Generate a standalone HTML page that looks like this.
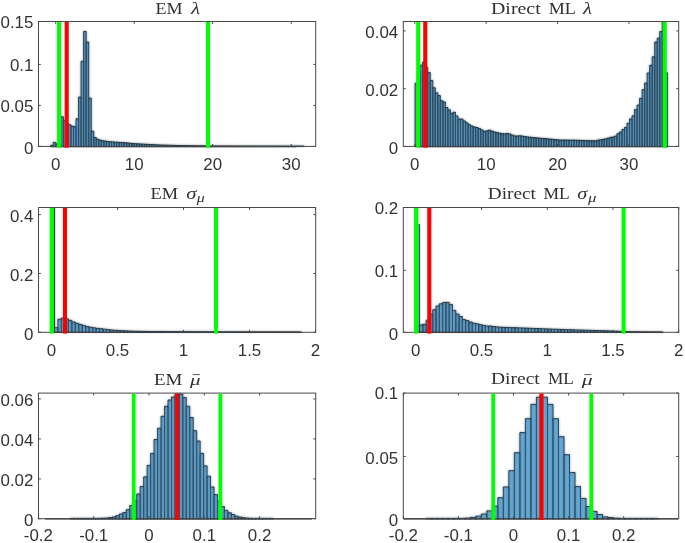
<!DOCTYPE html>
<html><head><meta charset="utf-8"><title>Histograms</title>
<style>
html,body{margin:0;padding:0;background:#fff}
svg{display:block}
.t{font-family:"Liberation Sans",sans-serif;font-size:16.9px;fill:#333}
.h{font-family:"Liberation Serif",serif;font-size:17.6px;fill:#303030}
.i{font-style:italic}
</style></head>
<body>
<svg width="685" height="543" viewBox="0 0 685 543">
<rect width="685" height="543" fill="#fff"/>
<defs><filter id="bl" x="-2%" y="-2%" width="104%" height="104%"><feGaussianBlur stdDeviation="0.8"/></filter>
<clipPath id="c1"><rect x="38.5" y="21" width="277.2" height="126.7"/></clipPath>
<clipPath id="c2"><rect x="403.3" y="21" width="275.4" height="126.7"/></clipPath>
<clipPath id="c3"><rect x="38.5" y="207" width="277.2" height="126.6"/></clipPath>
<clipPath id="c4"><rect x="403.3" y="207" width="275.4" height="126.6"/></clipPath>
<clipPath id="c5"><rect x="38.5" y="392.6" width="277.2" height="127.4"/></clipPath>
<clipPath id="c6"><rect x="403.3" y="392.6" width="275.4" height="127.4"/></clipPath>
</defs>
<g clip-path="url(#c1)"><path id="pc1" d="M50.7 147V145.4H53.23V147M53.23 147V142.4H55.77V147M55.77 147V143.9H58.3V147M58.3 147V144.9H60.83V147M60.83 147V116.8H63.37V147M63.37 147V120.4H65.9V147M65.9 147V123.4H68.43V147M68.43 147V124.8H70.96V147M70.96 147V126.2H73.5V147M73.5 147V126.6H76.03V147M76.03 147V118.8H78.56V147M78.56 147V97.1H81.1V147M81.1 147V61.4H83.63V147M83.63 147V31.4H86.16V147M86.16 147V42H88.7V147M88.69 147V98.2H91.23V147M91.23 147V131.2H93.76V147M93.76 147V137.6H96.29V147M96.29 147V139.2H98.83V147M98.83 147V140.1H101.36V147M101.36 147V140.7H103.89V147M103.89 147V141.03H106.43V147M106.43 147V141.52H108.96V147M108.96 147V141.72H111.49V147M111.49 147V141.92H114.03V147M114.03 147V142.12H116.56V147M116.56 147V142.29H119.09V147M119.09 147V142.43H121.62V147M121.62 147V142.58H124.16V147M124.16 147V142.74H126.69V147M126.69 147V143H129.22V147M129.22 147V143.26H131.76V147M131.76 147V143.52H134.29V147M134.29 147V143.7H136.82V147M136.82 147V143.84H139.35V147M139.36 147V143.99H141.89V147M141.89 147V144.13H144.42V147M144.42 147V144.26H146.95V147M146.95 147V144.39H149.49V147M149.49 147V144.52H152.02V147M152.02 147V144.65H154.55V147M154.55 147V144.78H157.09V147M157.09 147V144.91H159.62V147M159.62 147V145.03H162.15V147M162.15 147V145.1H164.68V147M164.69 147V145.17H167.22V147M167.22 147V145.24H169.75V147M169.75 147V145.31H172.28V147M172.28 147V145.38H174.82V147M174.82 147V145.46H177.35V147M177.35 147V145.52H179.88V147M179.88 147V145.56H182.42V147M182.42 147V145.6H184.95V147M184.95 147V145.65H187.48V147M187.48 147V145.69H190.01V147M190.01 147V145.74H192.55V147M192.55 147V145.78H195.08V147M195.08 147V145.81H197.61V147M197.61 147V145.83H200.15V147M200.15 147V145.85H202.68V147M202.68 147V145.87H205.21V147M205.21 147V145.89H207.75V147M207.75 147V145.91H210.28V147M210.28 147V145.92H212.81V147M212.81 147V145.94H215.34V147M215.34 147V145.95H217.88V147M217.88 147V145.96H220.41V147M220.41 147V145.96H222.94V147M222.94 147V145.97H225.48V147M225.48 147V145.98H228.01V147M228.01 147V145.98H230.54V147M230.54 147V145.99H233.08V147M233.08 147V145.99H235.61V147M235.61 147V146H238.14V147M238.14 147V146H240.67V147M240.68 147V146.01H243.21V147M243.21 147V146.02H245.74V147M245.74 147V146.02H248.27V147M248.27 147V146.03H250.81V147M250.81 147V146.03H253.34V147M253.34 147V146.04H255.87V147M255.87 147V146.04H258.41V147M258.41 147V146.05H260.94V147M260.94 147V146.05H263.47V147M263.47 147V146.06H266V147M266 147V146.06H268.54V147M268.54 147V146.06H271.07V147M271.07 147V146.06H273.6V147M273.6 147V146.07H276.14V147M276.14 147V146.07H278.67V147M278.67 147V146.07H281.2V147M281.2 147V146.08H283.74V147M283.74 147V146.08H286.27V147M286.27 147V146.08H288.8V147M288.8 147V146.08H291.34V147M291.33 147V146.09H293.87V147M293.87 147V146.09H296.4V147M296.4 147V146.09H298.93V147M298.93 147V146.1H301.47V147M301.47 147V146.1H304V147" fill="#66aad7" stroke="#101820" stroke-width="0.9" stroke-linejoin="miter"/><g filter="url(#bl)" opacity="0.55"><use href="#pc1"/></g></g>
<path d="M50.7 146.55H296" stroke="#2a2a2a" stroke-width="1.2" fill="none"/>
<rect x="38.5" y="21.5" width="277.2" height="124.9" fill="none" stroke="#484848" stroke-width="1"/>
<path d="M55.7 146.4v-2.4M55.7 21.5v2.4M134.2 146.4v-2.4M134.2 21.5v2.4M212.7 146.4v-2.4M212.7 21.5v2.4M291.2 146.4v-2.4M291.2 21.5v2.4M38.5 146.4h2.4M315.7 146.4h-2.4M38.5 105.4h2.4M315.7 105.4h-2.4M38.5 64.4h2.4M315.7 64.4h-2.4M38.5 21.5h2.4M315.7 21.5h-2.4" stroke="#484848" stroke-width="1" fill="none"/>
<text class="t" x="55.7" y="169.8" text-anchor="middle">0</text>
<text class="t" x="134.2" y="169.8" text-anchor="middle">10</text>
<text class="t" x="212.7" y="169.8" text-anchor="middle">20</text>
<text class="t" x="291.2" y="169.8" text-anchor="middle">30</text>
<text class="t" x="33.4" y="154.15" text-anchor="end">0</text>
<text class="t" x="33.4" y="112.45" text-anchor="end">0.05</text>
<text class="t" x="33.4" y="71.45" text-anchor="end">0.1</text>
<text class="t" x="33.4" y="27.85" text-anchor="end">0.15</text>
<rect x="57.05" y="22" width="4.1" height="125.7" fill="#00ff00"/>
<rect x="64.65" y="22" width="4.1" height="125.7" fill="#ff0000"/>
<rect x="205.95" y="22" width="4.1" height="125.7" fill="#00ff00"/>
<g clip-path="url(#c2)"><path id="pc2" d="M415.1 147V83.2H417.62V147M417.62 147V74.4H420.14V147M420.15 147V65.2H422.67V147M422.67 147V62.1H425.19V147M425.19 147V67.4H427.71V147M427.71 147V72.6H430.24V147M430.24 147V80.5H432.76V147M432.76 147V87.8H435.28V147M435.28 147V92.8H437.8V147M437.8 147V95.6H440.32V147M440.33 147V100.7H442.85V147M442.85 147V102H445.37V147M445.37 147V107.5H447.89V147M447.89 147V109.9H450.42V147M450.42 147V113.3H452.94V147M452.94 147V112.3H455.46V147M455.46 147V116H457.98V147M457.98 147V119.1H460.5V147M460.5 147V119.1H463.03V147M463.03 147V121H465.55V147M465.55 147V122.8H468.07V147M468.07 147V124.7H470.59V147M470.6 147V126H473.12V147M473.12 147V126.9H475.64V147M475.64 147V127.51H478.16V147M478.16 147V128.62H480.69V147M480.69 147V129.97H483.21V147M483.21 147V131.48H485.73V147M485.73 147V130.85H488.25V147M488.25 147V130.2H490.78V147M490.78 147V131.11H493.3V147M493.3 147V132.01H495.82V147M495.82 147V132.62H498.34V147M498.34 147V133.22H500.87V147M500.87 147V133.58H503.39V147M503.39 147V133.95H505.91V147M505.91 147V133.42H508.43V147M508.43 147V133.96H510.95V147M510.96 147V135.07H513.48V147M513.48 147V135.91H516V147M516 147V136.03H518.52V147M518.52 147V135.78H521.05V147M521.05 147V136.03H523.57V147M523.57 147V136.52H526.09V147M526.09 147V136.95H528.61V147M528.61 147V137.2H531.14V147M531.13 147V137.45H533.66V147M533.66 147V137.69H536.18V147M536.18 147V137.93H538.7V147M538.7 147V138.16H541.23V147M541.23 147V138.39H543.75V147M543.75 147V138.62H546.27V147M546.27 147V138.86H548.79V147M548.79 147V139.09H551.32V147M551.32 147V139.32H553.84V147M553.84 147V139.55H556.36V147M556.36 147V139.78H558.88V147M558.88 147V140H561.41V147M561.4 147V140.04H563.93V147M563.93 147V140.07H566.45V147M566.45 147V140.1H568.97V147M568.97 147V140.14H571.5V147M571.5 147V140.17H574.02V147M574.02 147V140.21H576.54V147M576.54 147V140.29H579.06V147M579.06 147V140.38H581.59V147M581.59 147V140.46H584.11V147M584.11 147V140.55H586.63V147M586.63 147V140.63H589.15V147M589.15 147V140.71H591.68V147M591.67 147V140.78H594.2V147M594.2 147V140.86H596.72V147M596.72 147V140.2H599.24V147M599.24 147V139.8H601.77V147M601.76 147V139.4H604.29V147M604.29 147V138.9H606.81V147M606.81 147V138.2H609.33V147M609.33 147V137.4H611.86V147M611.86 147V137H614.38V147M614.38 147V136.2H616.9V147M616.9 147V133.7H619.42V147M619.42 147V132H621.95V147M621.95 147V129.5H624.47V147M624.47 147V127.5H626.99V147M626.99 147V123.3H629.51V147M629.51 147V119H632.04V147M632.04 147V115.8H634.56V147M634.56 147V109.6H637.08V147M637.08 147V105.1H639.6V147M639.6 147V98.4H642.12V147M642.12 147V89.7H644.65V147M644.65 147V83H647.17V147M647.17 147V73H649.69V147M649.69 147V65.3H652.22V147M652.22 147V56.8H654.74V147M654.74 147V42.1H657.26V147M657.26 147V38.2H659.78V147M659.78 147V31.6H662.31V147M662.31 147V21.8H664.83V147M664.83 147V72.8H667.35V147" fill="#66aad7" stroke="#101820" stroke-width="0.9" stroke-linejoin="miter"/><g filter="url(#bl)" opacity="0.55"><use href="#pc2"/></g></g>
<path d="M415.1 146.55H668.1" stroke="#2a2a2a" stroke-width="1.2" fill="none"/>
<rect x="403.3" y="21.5" width="275.4" height="124.9" fill="none" stroke="#484848" stroke-width="1"/>
<path d="M414.8 146.4v-2.4M414.8 21.5v2.4M486.17 146.4v-2.4M486.17 21.5v2.4M557.54 146.4v-2.4M557.54 21.5v2.4M628.91 146.4v-2.4M628.91 21.5v2.4M403.3 146.4h2.4M678.7 146.4h-2.4M403.3 88.65h2.4M678.7 88.65h-2.4M403.3 30.9h2.4M678.7 30.9h-2.4" stroke="#484848" stroke-width="1" fill="none"/>
<text class="t" x="414.8" y="169.8" text-anchor="middle">0</text>
<text class="t" x="486.17" y="169.8" text-anchor="middle">10</text>
<text class="t" x="557.54" y="169.8" text-anchor="middle">20</text>
<text class="t" x="628.91" y="169.8" text-anchor="middle">30</text>
<text class="t" x="398.2" y="154.15" text-anchor="end">0</text>
<text class="t" x="398.2" y="95.7" text-anchor="end">0.02</text>
<text class="t" x="398.2" y="37.95" text-anchor="end">0.04</text>
<rect x="416.15" y="22" width="4.1" height="125.7" fill="#00ff00"/>
<rect x="423.2" y="22" width="4.1" height="125.7" fill="#ff0000"/>
<rect x="662.65" y="22" width="4.1" height="125.7" fill="#00ff00"/>
<path d="M51 332.3V202.3H54.6V332.3" fill="#66aad7" stroke="#1c3242" stroke-width="1.1" clip-path="url(#c3)"/>
<g clip-path="url(#c3)"><path id="pc3" d="M54.45 332.9V327.7H57.92V332.9M57.92 332.9V319.28H61.39V332.9M61.39 332.9V318.11H64.86V332.9M64.86 332.9V318.8H68.33V332.9M68.33 332.9V320.33H71.8V332.9M71.8 332.9V322.01H75.27V332.9M75.27 332.9V323.3H78.74V332.9M78.74 332.9V324.49H82.21V332.9M82.21 332.9V325.68H85.68V332.9M85.68 332.9V326.6H89.15V332.9M89.15 332.9V327.3H92.62V332.9M92.62 332.9V327.89H96.09V332.9M96.09 332.9V328.4H99.56V332.9M99.56 332.9V328.8H103.03V332.9M103.03 332.9V329.2H106.5V332.9M106.5 332.9V329.6H109.97V332.9M109.97 332.9V330H113.44V332.9M113.44 332.9V330.3H116.91V332.9M116.91 332.9V330.49H120.38V332.9M120.38 332.9V330.68H123.85V332.9M123.85 332.9V330.87H127.32V332.9M127.32 332.9V331.04H130.79V332.9M130.79 332.9V331.17H134.26V332.9M134.26 332.9V331.3H137.73V332.9M137.73 332.9V331.35H141.2V332.9M141.2 332.9V331.4H144.67V332.9M144.67 332.9V331.45H148.14V332.9M148.14 332.9V331.5H151.61V332.9M151.61 332.9V331.53H155.08V332.9M155.08 332.9V331.55H158.55V332.9M158.55 332.9V331.58H162.02V332.9M162.02 332.9V331.61H165.49V332.9M165.49 332.9V331.64H168.96V332.9M168.96 332.9V331.67H172.43V332.9M172.43 332.9V331.69H175.9V332.9M175.9 332.9V331.72H179.37V332.9M179.37 332.9V331.74H182.84V332.9M182.84 332.9V331.76H186.31V332.9M186.31 332.9V331.78H189.78V332.9M189.78 332.9V331.8H193.25V332.9M193.25 332.9V331.82H196.72V332.9M196.72 332.9V331.84H200.19V332.9M200.19 332.9V331.85H203.66V332.9M203.66 332.9V331.86H207.13V332.9M207.13 332.9V331.86H210.6V332.9M210.6 332.9V331.87H214.07V332.9M214.07 332.9V331.87H217.54V332.9M217.54 332.9V331.88H221.01V332.9M221.01 332.9V331.88H224.48V332.9M224.48 332.9V331.89H227.95V332.9M227.95 332.9V331.89H231.42V332.9M231.42 332.9V331.9H234.89V332.9M234.89 332.9V331.9H238.36V332.9M238.36 332.9V331.91H241.83V332.9M241.83 332.9V331.91H245.3V332.9M245.3 332.9V331.92H248.77V332.9M248.77 332.9V331.92H252.24V332.9M252.24 332.9V331.93H255.71V332.9M255.71 332.9V331.93H259.18V332.9M259.18 332.9V331.94H262.65V332.9M262.65 332.9V331.94H266.12V332.9M266.12 332.9V331.95H269.59V332.9M269.59 332.9V331.95H273.06V332.9M273.06 332.9V331.96H276.53V332.9M276.53 332.9V331.97H280V332.9M280 332.9V331.97H283.47V332.9M283.47 332.9V331.98H286.94V332.9M286.94 332.9V331.98H290.41V332.9M290.41 332.9V331.99H293.88V332.9M293.88 332.9V331.99H297.35V332.9M297.35 332.9V332H300.82V332.9" fill="#66aad7" stroke="#101820" stroke-width="0.9" stroke-linejoin="miter"/><g filter="url(#bl)" opacity="0.55"><use href="#pc3"/></g></g>
<path d="M51 332.45H302" stroke="#2a2a2a" stroke-width="1.2" fill="none"/>
<rect x="38.5" y="207.5" width="277.2" height="124.8" fill="none" stroke="#484848" stroke-width="1"/>
<path d="M51.5 332.3v-2.4M51.5 207.5v2.4M117.5 332.3v-2.4M117.5 207.5v2.4M183.5 332.3v-2.4M183.5 207.5v2.4M249.5 332.3v-2.4M249.5 207.5v2.4M315.5 332.3v-2.4M315.5 207.5v2.4M38.5 332.3h2.4M315.7 332.3h-2.4M38.5 273.45h2.4M315.7 273.45h-2.4M38.5 214.6h2.4M315.7 214.6h-2.4" stroke="#484848" stroke-width="1" fill="none"/>
<text class="t" x="51.5" y="355.7" text-anchor="middle">0</text>
<text class="t" x="117.5" y="355.7" text-anchor="middle">0.5</text>
<text class="t" x="183.5" y="355.7" text-anchor="middle">1</text>
<text class="t" x="249.5" y="355.7" text-anchor="middle">1.5</text>
<text class="t" x="315.5" y="355.7" text-anchor="middle">2</text>
<text class="t" x="33.4" y="340.05" text-anchor="end">0</text>
<text class="t" x="33.4" y="280.5" text-anchor="end">0.2</text>
<text class="t" x="33.4" y="221.65" text-anchor="end">0.4</text>
<rect x="49.65" y="208" width="4.3" height="125.6" fill="#00ff00"/>
<rect x="62.9" y="208" width="4.1" height="125.6" fill="#ff0000"/>
<rect x="213.95" y="208" width="4.1" height="125.6" fill="#00ff00"/>
<path d="M416.3 332.3V224.7H419.6V332.3" fill="#66aad7" stroke="#35485a" stroke-width="1.1" clip-path="url(#c4)"/>
<g clip-path="url(#c4)"><path id="pc4" d="M419.6 332.9V325H422.89V332.9M422.89 332.9V324.3H426.18V332.9M426.18 332.9V320.2H429.47V332.9M429.47 332.9V314.1H432.76V332.9M432.76 332.9V309.7H436.05V332.9M436.05 332.9V306H439.34V332.9M439.34 332.9V303.8H442.63V332.9M442.63 332.9V302.4H445.92V332.9M445.92 332.9V302.4H449.21V332.9M449.21 332.9V304.6H452.5V332.9M452.5 332.9V310.4H455.79V332.9M455.79 332.9V314.1H459.08V332.9M459.08 332.9V316.5H462.37V332.9M462.37 332.9V319.6H465.66V332.9M465.66 332.9V320.6H468.95V332.9M468.95 332.9V322.1H472.24V332.9M472.24 332.9V323.2H475.53V332.9M475.53 332.9V323.8H478.82V332.9M478.82 332.9V324.7H482.11V332.9M482.11 332.9V325.4H485.4V332.9M485.4 332.9V326H488.69V332.9M488.69 332.9V326H491.98V332.9M491.98 332.9V326.5H495.27V332.9M495.27 332.9V326.9H498.56V332.9M498.56 332.9V327.2H501.85V332.9M501.85 332.9V327.35H505.14V332.9M505.14 332.9V327.46H508.43V332.9M508.43 332.9V327.57H511.72V332.9M511.72 332.9V327.68H515.01V332.9M515.01 332.9V327.8H518.3V332.9M518.3 332.9V327.91H521.59V332.9M521.59 332.9V328.02H524.88V332.9M524.88 332.9V328.15H528.17V332.9M528.17 332.9V328.28H531.46V332.9M531.46 332.9V328.41H534.75V332.9M534.75 332.9V328.54H538.04V332.9M538.04 332.9V328.67H541.33V332.9M541.33 332.9V328.8H544.62V332.9M544.62 332.9V328.93H547.91V332.9M547.91 332.9V329.06H551.2V332.9M551.2 332.9V329.18H554.49V332.9M554.49 332.9V329.28H557.78V332.9M557.78 332.9V329.39H561.07V332.9M561.07 332.9V329.5H564.36V332.9M564.36 332.9V329.61H567.65V332.9M567.65 332.9V329.72H570.94V332.9M570.94 332.9V329.82H574.23V332.9M574.23 332.9V329.93H577.52V332.9M577.52 332.9V330.03H580.81V332.9M580.81 332.9V330.13H584.1V332.9M584.1 332.9V330.22H587.39V332.9M587.39 332.9V330.32H590.68V332.9M590.68 332.9V330.41H593.97V332.9M593.97 332.9V330.5H597.26V332.9M597.26 332.9V330.6H600.55V332.9M600.55 332.9V330.69H603.84V332.9M603.84 332.9V330.79H607.13V332.9M607.13 332.9V330.9H610.42V332.9M610.42 332.9V331.02H613.71V332.9M613.71 332.9V331.13H617V332.9M617 332.9V331.25H620.29V332.9M620.29 332.9V331.4H623.58V332.9M623.58 332.9V331.56H626.87V332.9M626.87 332.9V331.73H630.16V332.9M630.16 332.9V331.81H633.45V332.9M633.45 332.9V331.83H636.74V332.9M636.74 332.9V331.85H640.03V332.9M640.03 332.9V331.88H643.32V332.9M643.32 332.9V331.9H646.61V332.9M646.61 332.9V331.92H649.9V332.9M649.9 332.9V331.94H653.19V332.9M653.19 332.9V331.96H656.48V332.9M656.48 332.9V331.98H659.77V332.9M659.77 332.9V332H663.06V332.9" fill="#66aad7" stroke="#101820" stroke-width="0.9" stroke-linejoin="miter"/><g filter="url(#bl)" opacity="0.55"><use href="#pc4"/></g></g>
<path d="M416.3 332.45H662" stroke="#2a2a2a" stroke-width="1.2" fill="none"/>
<rect x="403.3" y="207.5" width="275.4" height="124.8" fill="none" stroke="#484848" stroke-width="1"/>
<path d="M415.8 332.3v-2.4M415.8 207.5v2.4M481.52 332.3v-2.4M481.52 207.5v2.4M547.25 332.3v-2.4M547.25 207.5v2.4M612.98 332.3v-2.4M612.98 207.5v2.4M678.7 332.3v-2.4M678.7 207.5v2.4M403.3 332.3h2.4M678.7 332.3h-2.4M403.3 270.3h2.4M678.7 270.3h-2.4M403.3 207.5h2.4M678.7 207.5h-2.4" stroke="#484848" stroke-width="1" fill="none"/>
<text class="t" x="415.8" y="355.7" text-anchor="middle">0</text>
<text class="t" x="481.52" y="355.7" text-anchor="middle">0.5</text>
<text class="t" x="547.25" y="355.7" text-anchor="middle">1</text>
<text class="t" x="612.98" y="355.7" text-anchor="middle">1.5</text>
<text class="t" x="678.7" y="355.7" text-anchor="middle">2</text>
<text class="t" x="398.2" y="340.05" text-anchor="end">0</text>
<text class="t" x="398.2" y="277.35" text-anchor="end">0.1</text>
<text class="t" x="398.2" y="213.85" text-anchor="end">0.2</text>
<rect x="414.05" y="208" width="4.3" height="125.6" fill="#00ff00"/>
<rect x="427.25" y="208" width="4.1" height="125.6" fill="#ff0000"/>
<rect x="621.55" y="208" width="4.1" height="125.6" fill="#00ff00"/>
<g clip-path="url(#c5)"><path id="pc5" d="M70.6 519.3V518.4H74.08V519.3M74.08 519.3V518.4H77.56V519.3M77.56 519.3V518.4H81.04V519.3M81.04 519.3V518.4H84.52V519.3M84.52 519.3V518.4H88V519.3M88 519.3V518.4H91.48V519.3M91.48 519.3V518.4H94.96V519.3M94.96 519.3V518.4H98.44V519.3M98.44 519.3V518.3H101.92V519.3M101.92 519.3V518.2H105.4V519.3M105.4 519.3V518H108.88V519.3M108.88 519.3V517.6H112.36V519.3M112.36 519.3V516.9H115.84V519.3M115.84 519.3V515.7H119.32V519.3M119.32 519.3V514H122.8V519.3M122.8 519.3V512.6H126.28V519.3M126.28 519.3V509.7H129.76V519.3M129.76 519.3V505.6H133.24V519.3M133.24 519.3V500.7H136.72V519.3M136.72 519.3V494.1H140.2V519.3M140.2 519.3V486.5H143.68V519.3M143.68 519.3V476.9H147.16V519.3M147.16 519.3V465.4H150.64V519.3M150.64 519.3V453.4H154.12V519.3M154.12 519.3V439.5H157.6V519.3M157.6 519.3V428.3H161.08V519.3M161.08 519.3V416.3H164.56V519.3M164.56 519.3V406.3H168.04V519.3M168.04 519.3V400H171.52V519.3M171.52 519.3V397H175V519.3M175 519.3V394.1H179.3V519.3M179.3 519.3V394.1H182.77V519.3M182.77 519.3V397.6H186.24V519.3M186.24 519.3V406.3H189.71V519.3M189.71 519.3V417.5H193.18V519.3M193.18 519.3V430.7H196.65V519.3M196.65 519.3V441H200.12V519.3M200.12 519.3V453.4H203.59V519.3M203.59 519.3V465.9H207.06V519.3M207.06 519.3V476.2H210.53V519.3M210.53 519.3V487H214V519.3M214 519.3V494.6H217.47V519.3M217.47 519.3V501.2H220.94V519.3M220.94 519.3V506.6H224.41V519.3M224.41 519.3V510.4H227.88V519.3M227.88 519.3V512.8H231.35V519.3M231.35 519.3V514.5H234.82V519.3M234.82 519.3V516.2H238.29V519.3M238.29 519.3V517.1H241.76V519.3M241.76 519.3V517.7H245.23V519.3M245.23 519.3V518.1H248.7V519.3M248.7 519.3V518.3H252.17V519.3M252.17 519.3V518.4H255.64V519.3M255.64 519.3V518.4H259.11V519.3M259.11 519.3V518.4H262.58V519.3M262.58 519.3V518.4H266.05V519.3M266.05 519.3V518.4H269.52V519.3M269.52 519.3V518.4H272.99V519.3" fill="#66aad7" stroke="#101820" stroke-width="0.9" stroke-linejoin="miter"/><g filter="url(#bl)" opacity="0.55"><use href="#pc5"/></g></g>
<path d="M45 518.85H312" stroke="#2a2a2a" stroke-width="1.2" fill="none"/>
<rect x="38.5" y="393.1" width="277.2" height="125.6" fill="none" stroke="#484848" stroke-width="1"/>
<path d="M38.4 518.7v-2.4M38.4 393.1v2.4M93.7 518.7v-2.4M93.7 393.1v2.4M149 518.7v-2.4M149 393.1v2.4M204.3 518.7v-2.4M204.3 393.1v2.4M259.6 518.7v-2.4M259.6 393.1v2.4M38.5 518.7h2.4M315.7 518.7h-2.4M38.5 478.9h2.4M315.7 478.9h-2.4M38.5 438.9h2.4M315.7 438.9h-2.4M38.5 398.9h2.4M315.7 398.9h-2.4" stroke="#484848" stroke-width="1" fill="none"/>
<text class="t" x="38.4" y="540.9" text-anchor="middle">-0.2</text>
<text class="t" x="93.7" y="540.9" text-anchor="middle">-0.1</text>
<text class="t" x="149" y="540.9" text-anchor="middle">0</text>
<text class="t" x="204.3" y="540.9" text-anchor="middle">0.1</text>
<text class="t" x="259.6" y="540.9" text-anchor="middle">0.2</text>
<text class="t" x="33.4" y="526.45" text-anchor="end">0</text>
<text class="t" x="33.4" y="485.95" text-anchor="end">0.02</text>
<text class="t" x="33.4" y="445.95" text-anchor="end">0.04</text>
<text class="t" x="33.4" y="405.95" text-anchor="end">0.06</text>
<rect x="131.8" y="393.6" width="3.8" height="126.4" fill="#00ff00"/>
<rect x="175.15" y="393.6" width="3.9" height="126.4" fill="#ff0000"/>
<rect x="218.5" y="393.6" width="3.8" height="126.4" fill="#00ff00"/>
<g clip-path="url(#c6)"><path id="pc6" d="M426.24 519.3V518.4H431.75V519.3M431.75 519.3V518.4H437.26V519.3M437.26 519.3V518.4H442.77V519.3M442.77 519.3V518.4H448.28V519.3M448.28 519.3V518.4H453.79V519.3M453.79 519.3V518.4H459.3V519.3M459.3 519.3V518.4H464.81V519.3M464.81 519.3V518.1H470.32V519.3M470.32 519.3V517.4H475.83V519.3M475.83 519.3V516.2H481.34V519.3M481.34 519.3V514H486.85V519.3M486.85 519.3V510.9H492.36V519.3M492.36 519.3V506.1H497.87V519.3M497.87 519.3V497.7H503.38V519.3M503.38 519.3V487H508.89V519.3M508.89 519.3V470.7H514.4V519.3M514.4 519.3V452.7H519.91V519.3M519.91 519.3V432.6H525.42V519.3M525.42 519.3V418.7H530.93V519.3M530.93 519.3V404.4H536.44V519.3M536.44 519.3V397.2H541.95V519.3M541.95 519.3V397.2H547.46V519.3M547.46 519.3V404.4H552.97V519.3M552.97 519.3V418.7H558.48V519.3M558.48 519.3V436.7H563.99V519.3M563.99 519.3V454.7H569.5V519.3M569.5 519.3V472.6H575.01V519.3M575.01 519.3V486.5H580.52V519.3M580.52 519.3V498.4H586.03V519.3M586.03 519.3V506.6H591.54V519.3M591.54 519.3V511.4H597.05V519.3M597.05 519.3V514.5H602.56V519.3M602.56 519.3V516.9H608.07V519.3M608.07 519.3V517.6H613.58V519.3M613.58 519.3V518.2H619.09V519.3M619.09 519.3V518.4H624.6V519.3M624.6 519.3V518.4H630.11V519.3M630.11 519.3V518.4H635.62V519.3M635.62 519.3V518.4H641.13V519.3M641.13 519.3V518.4H646.64V519.3M646.64 519.3V518.4H652.15V519.3M652.15 519.3V518.4H657.66V519.3" fill="#66aad7" stroke="#101820" stroke-width="0.9" stroke-linejoin="miter"/><g filter="url(#bl)" opacity="0.55"><use href="#pc6"/></g></g>
<path d="M404 518.85H678" stroke="#2a2a2a" stroke-width="1.2" fill="none"/>
<rect x="403.3" y="393.1" width="275.4" height="125.6" fill="none" stroke="#484848" stroke-width="1"/>
<path d="M403.34 518.7v-2.4M403.34 393.1v2.4M458.42 518.7v-2.4M458.42 393.1v2.4M513.5 518.7v-2.4M513.5 393.1v2.4M568.58 518.7v-2.4M568.58 393.1v2.4M623.66 518.7v-2.4M623.66 393.1v2.4M403.3 518.7h2.4M678.7 518.7h-2.4M403.3 456.5h2.4M678.7 456.5h-2.4M403.3 393.1h2.4M678.7 393.1h-2.4" stroke="#484848" stroke-width="1" fill="none"/>
<text class="t" x="403.34" y="540.9" text-anchor="middle">-0.2</text>
<text class="t" x="458.42" y="540.9" text-anchor="middle">-0.1</text>
<text class="t" x="513.5" y="540.9" text-anchor="middle">0</text>
<text class="t" x="568.58" y="540.9" text-anchor="middle">0.1</text>
<text class="t" x="623.66" y="540.9" text-anchor="middle">0.2</text>
<text class="t" x="398.2" y="526.45" text-anchor="end">0</text>
<text class="t" x="398.2" y="463.55" text-anchor="end">0.05</text>
<text class="t" x="398.2" y="399.45" text-anchor="end">0.1</text>
<rect x="491.3" y="393.6" width="3.8" height="126.4" fill="#00ff00"/>
<rect x="539.3" y="393.6" width="4.2" height="126.4" fill="#ff0000"/>
<rect x="589.4" y="393.6" width="3.8" height="126.4" fill="#00ff00"/>
<text class="h" x="155.4" y="13.7" textLength="27" lengthAdjust="spacingAndGlyphs">EM</text>
<text class="h i" x="191" y="13.7" textLength="9.1" lengthAdjust="spacingAndGlyphs">λ</text>
<text class="h" x="491" y="13.6" textLength="49.7" lengthAdjust="spacingAndGlyphs">Direct</text>
<text class="h" x="548.8" y="13.6" textLength="27" lengthAdjust="spacingAndGlyphs">ML</text>
<text class="h i" x="583" y="13.6" textLength="9" lengthAdjust="spacingAndGlyphs">λ</text>
<text class="h" x="150.5" y="199" textLength="27.5" lengthAdjust="spacingAndGlyphs">EM</text>
<text class="h i" x="186.2" y="199" style="font-size:17px" textLength="10.2" lengthAdjust="spacingAndGlyphs">σ</text>
<text class="h i" x="196.8" y="201.8" style="font-size:12.2px" textLength="8" lengthAdjust="spacingAndGlyphs">μ</text>
<text class="h" x="487.8" y="199.1" textLength="48.1" lengthAdjust="spacingAndGlyphs">Direct</text>
<text class="h" x="543.6" y="199.1" textLength="26.2" lengthAdjust="spacingAndGlyphs">ML</text>
<text class="h i" x="577.3" y="199.1" style="font-size:17px" textLength="10" lengthAdjust="spacingAndGlyphs">σ</text>
<text class="h i" x="588" y="201.9" style="font-size:12.2px" textLength="8.4" lengthAdjust="spacingAndGlyphs">μ</text>
<text class="h" x="154" y="384.5" textLength="28.4" lengthAdjust="spacingAndGlyphs">EM</text>
<text class="h i" x="190.1" y="385.3" style="font-size:15.6px" textLength="10.5" lengthAdjust="spacingAndGlyphs">μ</text>
<rect x="192.8" y="374.2" width="7" height="0.9" fill="#444"/>
<text class="h" x="491" y="384.4" textLength="48.8" lengthAdjust="spacingAndGlyphs">Direct</text>
<text class="h" x="548" y="384.4" textLength="25.8" lengthAdjust="spacingAndGlyphs">ML</text>
<text class="h i" x="581.7" y="385.3" style="font-size:15.6px" textLength="10.9" lengthAdjust="spacingAndGlyphs">μ</text>
<rect x="584.3" y="374.2" width="7" height="0.9" fill="#444"/>
</svg>
</body></html>
